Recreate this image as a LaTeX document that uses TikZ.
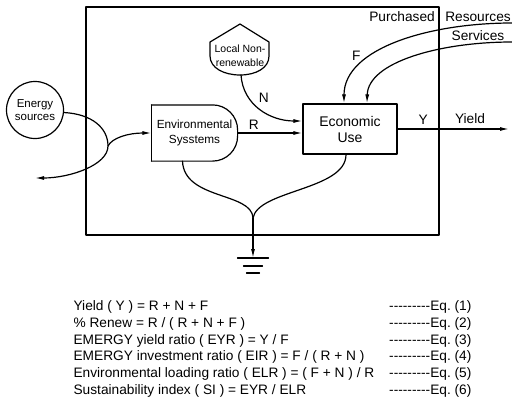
\documentclass[tikz,border=0pt]{standalone}
\usepackage{fontspec}
\setmainfont{Liberation Sans}
\usetikzlibrary{arrows.meta}
\newcommand\dashrow{\mbox{-}\mbox{-}\mbox{-}\mbox{-}\mbox{-}\mbox{-}\mbox{-}\mbox{-}\mbox{-}}
\begin{document}
\begin{tikzpicture}[x=1pt, y=-1pt, line width=1.2pt, line join=round, line cap=round, >={Latex[length=9pt,width=4pt]}, font=\fontsize{13.7}{16.8}\selectfont]
	\useasboundingbox (0,0) rectangle (512,399);
	\draw (86,7) rectangle (439,235);
	% sources, producers, users
	\node[circle, draw, minimum size=57pt, inner sep=0pt, align=center, font=\fontsize{11.5}{13}\selectfont] (src) at (35,110) {Energy\\sources};
	\node[minimum width=85pt, minimum height=55pt, inner sep=0pt, align=center, font=\fontsize{11.8}{15}\selectfont] (env) at (194.5,133) {Environmental\\Sysstems};
	\draw[rounded corners=25pt] (env.south west) -- (env.south east) -- (env.north east) -- (env.north west);
	\draw (env.north west) -- (env.south west);
	\node[align=center, inner sep=0pt, font=\fontsize{10.5}{14}\selectfont] (lnr) at (240,56) {Local Non-\\renewable};
	\draw (210,42) -- (240,24) -- (269,42) -- (269,56) .. controls (269,68) and (256,75) .. (240,75) .. controls (224,75) and (210,68) .. (210,56) -- cycle;
	\coordinate (lnr-s) at (241,75);
	\node[draw, minimum width=94pt, minimum height=50pt, align=center, font=\fontsize{14}{16}\selectfont] (eco) at (350,129) {Economic\\Use};
	\node (pur) at (402,17) {Purchased};
	\node (res) at (478,17) {Resources};
	\node (ser) at (478,36) {Services};
	% free ends
	\coordinate (split) at (108,146);
	\coordinate (back) at (35,178);
	\coordinate (res-in) at (512,23);
	\coordinate (ser-in) at (512,42);
	\coordinate (yield) at (509,129);
	\coordinate (sink) at (253,218);
	\coordinate (gnd) at (253,258);
	% flows
	\draw[->] (src.-5) .. controls (92,114) and (108,128) .. (split) .. controls (108,165) and (70,178) .. (back);
	\draw[->] (split) .. controls (112,138) and (128,133) .. (env.west);
	\draw[->] (env.east) -- (eco.west |- env.east) node[pos=0.25, above] {R};
	\draw[->] (lnr-s) .. controls (243,105) and (270,121) .. ([yshift=8pt]eco.west) node[pos=0.3, right=6pt] {N};
	\draw[->] (res-in) .. controls (430,23) and (344,48) .. ([xshift=-6pt]eco.north) node[pos=0.68, left=3pt, yshift=4pt] {F};
	\draw[->] (ser-in) .. controls (440,42) and (368,62) .. ([xshift=17pt]eco.north);
	\draw[->] (eco.east) -- (yield) node[pos=0.23, above=1pt] {Y} node[pos=0.65, above=1pt] {Yield};
	\draw ([xshift=-12pt]env.south) .. controls (184,200) and (252,192) .. (sink);
	\draw ([xshift=-4pt]eco.south) .. controls (346,190) and (258,190) .. (sink);
	\draw[->] (sink) -- (gnd);
	\foreach \w/\dy in {15.5/0, 9.5/8, 6.5/15}
	\draw ([shift={(-\w,\dy)}]gnd) -- ([shift={(\w,\dy)}]gnd);
	% indices
	\foreach \i/\eq in {1/{Yield ( Y ) = R + N + F}, 2/{\% Renew = R / ( R + N + F )}, 3/{EMERGY yield ratio ( EYR ) = Y / F}, 4/{EMERGY investment ratio ( EIR ) = F / ( R + N )}, 5/{Environmental loading ratio ( ELR ) = ( F + N ) / R}, 6/{Sustainability index ( SI ) = EYR / ELR}}{
	\node[anchor=base west, inner xsep=0pt] (eq\i) at (73,{293.7+16.8*\i}) {\eq};
	\node[anchor=base east, inner xsep=0pt] (eqno\i) at (472,{293.7+16.8*\i}) {\dashrow Eq.\ (\i)};
	}
\end{tikzpicture}
\end{document}
